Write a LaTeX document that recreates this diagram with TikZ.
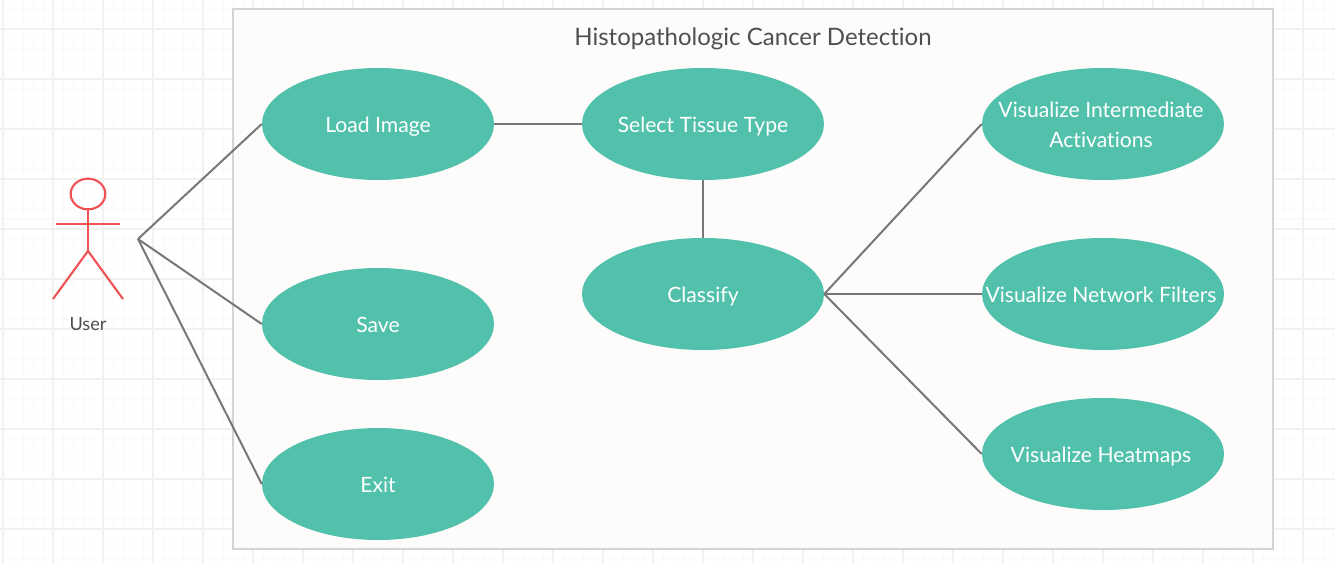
\documentclass[tikz,border=0pt]{standalone}
\usepackage{fontspec}
\setmainfont{Lato}[Ligatures=NoCommon]
\usetikzlibrary{shapes.geometric}
\definecolor{gridmajor}{HTML}{F1F1F1}
\definecolor{gridminor}{HTML}{FAFAFA}
\definecolor{framefill}{HTML}{FDFCFB}
\definecolor{frameline}{HTML}{D4D4D4}
\definecolor{casefill}{HTML}{51C1AB}
\definecolor{linkline}{HTML}{777777}
\definecolor{actorline}{HTML}{F05355}
\definecolor{labeltext}{HTML}{4F4F4F}
\tikzset{
  usecase/.style={ellipse,fill=casefill,text=white,inner sep=0pt,minimum width=#1,minimum height=84pt,text height=14pt,text depth=1.25pt,font=\fontsize{15.85}{22.5}\selectfont},
  usecase/.default=174pt,
  link/.style={draw=linkline,line width=1.5pt},
  actor/.style={draw=actorline,line width=1.6pt},
}
\begin{document}
\begin{tikzpicture}[x=0.75pt,y=-0.75pt]
\useasboundingbox (0,0) rectangle (1335,563);
% background grid
\foreach \x in {3,13,...,1333} \draw [gridminor,line width=0.75pt] (\x,0) -- (\x,563);
\foreach \y in {9,19,...,559} \draw [gridminor,line width=0.75pt] (0,\y) -- (1335,\y);
\foreach \x in {3,53,...,1303} \draw [gridmajor,line width=1.5pt] (\x,0) -- (\x,563);
\foreach \y in {29,79,...,529} \draw [gridmajor,line width=1.5pt] (0,\y) -- (1335,\y);
% system frame
\node [draw=frameline,fill=framefill,line width=1.5pt,inner sep=0pt,minimum width=780pt,minimum height=405pt] (frame) at (753,279) {};
\node [text=labeltext,font=\fontsize{18}{22}\selectfont] (title) at (753,38.5) {Histopathologic Cancer Detection};
% use cases
\node [usecase] (load) at (378,124) {\clap{Load Image}};
\node [usecase] (save) at (378,324) {\clap{Save}};
\node [usecase] (exit) at (378,484) {\clap{Exit}};
\node [usecase=181.5pt] (tissue) at (703,124) {\clap{Select Tissue Type}};
\node [usecase=181.5pt] (classify) at (703,294) {\clap{Classify}};
\node [usecase=181.5pt] (activations) at (1103,124) {\clap{\raisebox{1.5pt}{\parbox{240pt}{\centering Visualize Intermediate\\Activations}}\hspace{3pt}}};
\node [usecase=181.5pt] (filters) at (1103,294) {\clap{Visualize Network Filters\hspace{3pt}}};
\node [usecase=181.5pt] (heatmaps) at (1103,454) {\clap{Visualize Heatmaps\hspace{3pt}}};
% actor
\node [actor,ellipse,inner sep=0pt,minimum width=26pt,minimum height=23pt] (head) at (88,194) {};
\coordinate (neck) at (88,224);
\coordinate (hip) at (88,251);
\coordinate (handl) at (56,224);
\coordinate (handr) at (120,224);
\coordinate (footl) at (53,299);
\coordinate (footr) at (123,299);
\draw [actor] (head.south) -- (hip);
\draw [actor] (handl) -- (handr);
\draw [actor] (footl) -- (hip) -- (footr);
\node [text=labeltext,font=\fontsize{13.6}{16}\selectfont] (user) at (88,324) {User};
\coordinate (hub) at (138,239);
% links
\draw [link] (hub) -- (load.west);
\draw [link] (hub) -- (save.west);
\draw [link] (hub) -- (exit.west);
\draw [link] (load.east) -- (tissue.west);
\draw [link] (tissue.south) -- (classify.north);
\draw [link] (classify.east) -- (activations.west);
\draw [link] (classify.east) -- (filters.west);
\draw [link] (classify.east) -- (heatmaps.west);
\end{tikzpicture}
\end{document}
